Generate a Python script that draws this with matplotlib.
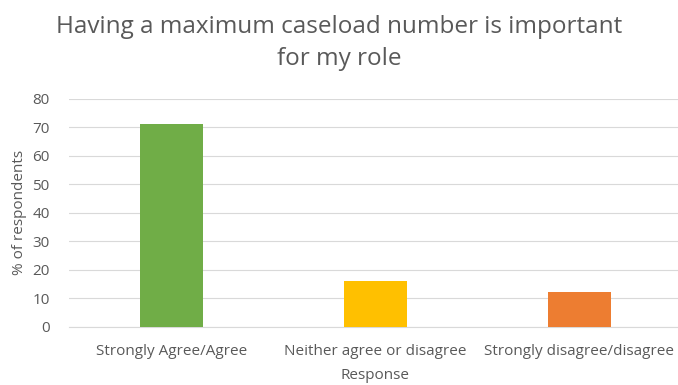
import matplotlib.pyplot as plt

categories = ['Strongly Agree/Agree', 'Neither agree or disagree', 'Strongly disagree/disagree']
values = [71.2, 16.0, 12.4]
colors = ['#70AD47', '#FFC000', '#ED7D31']

plt.rcParams['font.family'] = ['Open Sans', 'DejaVu Sans']

fig = plt.figure(figsize=(6.78, 3.85), dpi=100)
ax = fig.add_axes([0.102, 0.151, 0.903, 0.592])

x = range(len(categories))
ax.bar(x, values, width=0.31, color=colors, zorder=3)

ax.set_xlim(-0.5, 2.5)
ax.set_ylim(0, 80)
ax.set_yticks(range(0, 81, 10))
ax.set_xticks(list(x))
ax.set_xticklabels(categories)
ax.tick_params(axis='both', length=0, colors='#595959', labelsize=11)
ax.tick_params(axis='y', pad=14)
ax.tick_params(axis='x', pad=12)
ax.grid(axis='y', color='#D9D9D9', linewidth=0.8, zorder=0)
for s in ['top', 'right', 'left']:
    ax.spines[s].set_visible(False)
ax.spines['bottom'].set_color('#D9D9D9')

ax.set_xlabel('Response', color='#595959', fontsize=11, labelpad=7)
ax.set_ylabel('% of respondents', color='#595959', fontsize=11, labelpad=4)

fig.text(0.5, 0.888, 'Having a maximum caseload number is important\nfor my role',
         ha='center', va='center', fontsize=17.5, color='#595959', linespacing=1.45)

fig.savefig('out.png', dpi=100)
